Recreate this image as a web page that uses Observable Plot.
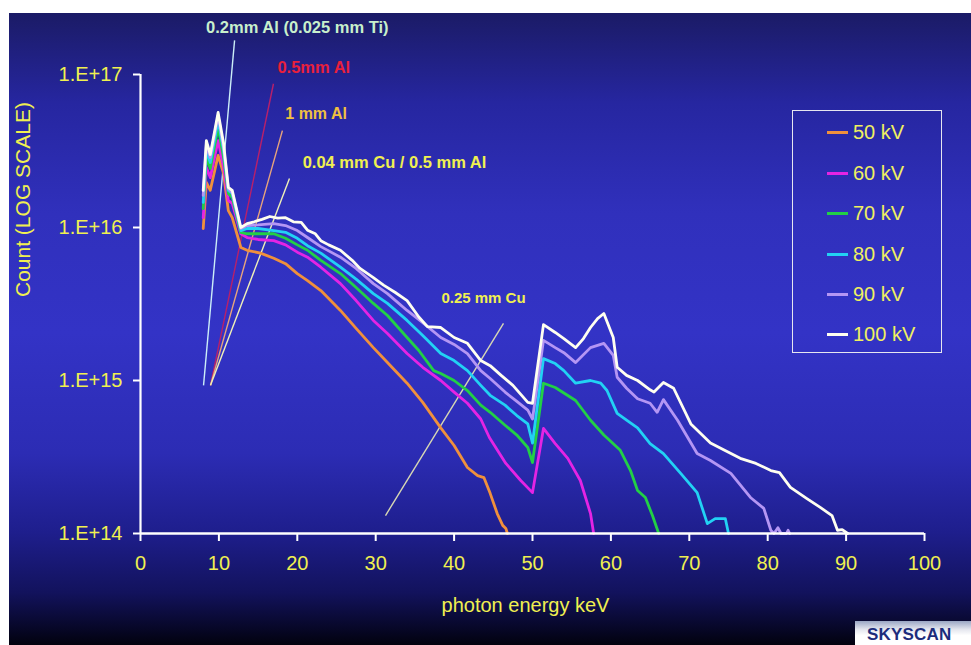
<!DOCTYPE html>
<html><head><meta charset="utf-8">
<script src="https://cdn.jsdelivr.net/npm/d3@7"></script>
<script src="https://cdn.jsdelivr.net/npm/@observablehq/plot@0.6"></script>
<style>
html,body{margin:0;padding:0;background:#fff;width:971px;height:645px;overflow:hidden;font-family:Arial,"Liberation Sans",sans-serif;}
#panel{position:absolute;left:9px;top:13px;width:962px;height:632px;
background:linear-gradient(to bottom,#1b1b66 0px,#2626a0 90px,#3030bc 200px,#3333c6 320px,#2c2cb4 440px,#1e1e8c 520px,#12125c 580px,#070728 615px,#02020e 632px);}
#chart{position:absolute;left:0;top:0;}
#legend{position:absolute;left:783px;top:97px;width:148px;height:241px;border:1px solid #e6e6f0;}
.lrow{position:absolute;left:0;height:24px;}
.sw{position:absolute;left:34px;top:11px;width:21px;height:3px;}
.lt{position:absolute;left:60px;top:0;font-size:20px;line-height:24px;color:#f0f060;white-space:nowrap;}
#logo{position:absolute;left:846px;top:608px;width:116px;height:24px;background:linear-gradient(to bottom,#9aa6c4,#e4e6ee 35%,#ffffff 60%);overflow:hidden;}
#logo span{position:absolute;left:12px;top:4px;font-size:17px;font-weight:900;color:#1c2c7c;letter-spacing:0.2px;}
</style></head>
<body>
<div id="panel"><div id="chart"></div><div id="legend"></div><div id="logo"><span>SKYSCAN</span></div></div>
<script>
const seriesNames = ["50 kV","60 kV","70 kV","80 kV","90 kV","100 kV"];
const seriesColors = ["#f0903c","#e424e4","#22d046","#22d2f4","#b496f4","#fffff0"];
const xTicks = [0,10,20,30,40,50,60,70,80,90,100];
const yTicks = [1e14,1e15,1e16,1e17];
const yTickLabels = ["1.E+14","1.E+15","1.E+16","1.E+17"];

const kV50 = [[8.0,9.85e15],[8.4,1.97e16],[8.9,1.75e16],[9.9,2.96e16],[10.6,2.25e16],[11.2,1.29e16],[11.7,1.16e16],[12.8,7.4e15],[13.6,7.1e15],[15.3,6.8e15],[17,6.3e15],[18.5,5.8e15],[20,5.0e15],[21.3,4.5e15],[23,3.87e15],[25.5,2.87e15],[27.5,2.19e15],[29.7,1.64e15],[31.5,1.31e15],[34,9.6e14],[36,7.2e14],[38.3,4.9e14],[40,3.76e14],[41.7,2.7e14],[43,2.39e14],[43.8,2.32e14],[44.6,1.83e14],[45.5,1.35e14],[46.2,1.13e14],[46.6,1.08e14],[46.8,1.0e14]];
const kV60 = [[8.0,1.16e16],[8.4,2.47e16],[8.9,2.12e16],[9.9,3.7e16],[10.6,2.47e16],[11.2,1.5e16],[11.7,1.44e16],[12.8,9.1e15],[13.6,8.6e15],[15,8.35e15],[17,8.2e15],[18.5,7.7e15],[20,6.9e15],[21.3,6.4e15],[23,5.5e15],[25.5,4.3e15],[27.5,3.33e15],[29.7,2.47e15],[31.5,2.03e15],[34,1.5e15],[36,1.22e15],[38.3,1.0e15],[40,8.4e14],[41.7,7.1e14],[43.4,5.6e14],[44.5,4.24e14],[46.6,2.87e14],[48.5,2.22e14],[50,1.85e14],[51.4,4.86e14],[52.9,3.87e14],[54.5,3.1e14],[56.1,2.22e14],[57.4,1.35e14],[57.8,1.0e14]];
const kV70 = [[8.0,1.33e16],[8.4,2.87e16],[8.9,2.43e16],[9.9,4.5e16],[10.6,2.87e16],[11.2,1.67e16],[11.7,1.57e16],[12.8,9.3e15],[13.6,9.1e15],[15,9.1e15],[17,9.1e15],[18.5,8.5e15],[20,7.7e15],[21.3,7.1e15],[23,6.1e15],[25.5,5.0e15],[27.5,4.05e15],[29.7,3.19e15],[31.5,2.66e15],[34,1.91e15],[35.5,1.57e15],[37.4,1.16e15],[38.3,1.11e15],[40,1.0e15],[41.7,8.6e14],[43.4,6.9e14],[44.6,6.2e14],[46.5,5.1e14],[48,4.4e14],[49.4,3.65e14],[50,2.91e14],[51.4,9.6e14],[52.9,9.0e14],[55.5,7.4e14],[57.4,5.5e14],[59.1,4.4e14],[61.2,3.5e14],[62.5,2.58e14],[63.4,1.91e14],[64.4,1.72e14],[65.3,1.31e14],[66.1,1.0e14]];
const kV80 = [[8.0,1.46e16],[8.4,3.19e16],[8.9,2.66e16],[9.9,5.0e16],[10.6,3.19e16],[11.2,1.75e16],[11.7,1.67e16],[12.8,9.55e15],[13.6,9.85e15],[15,9.85e15],[17,9.55e15],[18.5,9.3e15],[20,8.5e15],[21.3,7.6e15],[23,6.8e15],[25.5,5.5e15],[27.5,4.6e15],[29.7,3.7e15],[31.5,3.19e15],[34,2.47e15],[36,1.97e15],[38.3,1.5e15],[40,1.35e15],[41.7,1.16e15],[43.4,9.3e14],[44.6,8.0e14],[46.5,6.9e14],[48,5.9e14],[49.4,5.2e14],[50,3.9e14],[51.4,1.39e15],[52.9,1.29e15],[54,1.16e15],[55.5,9.6e14],[57.4,1.0e15],[58.7,9.6e14],[59.5,8.6e14],[60.8,6.1e14],[62,5.5e14],[63.4,4.9e14],[65,3.87e14],[66.7,3.33e14],[68.9,2.47e14],[71,1.85e14],[72.3,1.16e14],[73.3,1.25e14],[74.6,1.25e14],[75,1.0e14]];
const kV90 = [[8.0,1.62e16],[8.4,3.44e16],[8.9,2.87e16],[9.9,5.4e16],[10.6,3.33e16],[11.2,1.8e16],[11.7,1.69e16],[12.8,9.85e15],[13.6,1.03e16],[15,1.04e16],[17,1.06e16],[18.5,1.03e16],[20,9.55e15],[21.3,8.6e15],[23,7.5e15],[25.5,6.4e15],[27.5,5.4e15],[29.7,4.3e15],[31.5,3.7e15],[34,2.87e15],[36,2.39e15],[38.3,1.91e15],[40,1.72e15],[41.7,1.5e15],[43.4,1.16e15],[44.6,1.03e15],[46.5,8.4e14],[48,7.3e14],[49.4,6.4e14],[50,5.6e14],[51.4,1.83e15],[52.9,1.64e15],[54,1.52e15],[55.5,1.31e15],[57.4,1.64e15],[59.1,1.75e15],[60.3,1.46e15],[60.8,1.05e15],[62,8.9e14],[63.4,7.6e14],[65,7.1e14],[65.9,6.2e14],[66.7,7.5e14],[68.5,5.5e14],[71,3.33e14],[72.7,3.0e14],[75.3,2.47e14],[77.8,1.72e14],[79.5,1.46e14],[80.4,1.05e14],[80.8,1.0e14],[81.3,1.09e14],[81.7,1.0e14],[82.4,1.0e14],[82.6,1.05e14],[82.8,1.0e14]];
const kV100 = [[8.0,1.75e16],[8.4,3.7e16],[8.9,3.0e16],[9.9,5.65e16],[10.6,3.54e16],[11.2,1.83e16],[11.7,1.75e16],[12.8,1.0e16],[13.6,1.06e16],[14.5,1.09e16],[15.5,1.13e16],[16.5,1.18e16],[17.5,1.15e16],[18.5,1.16e16],[19.5,1.09e16],[20.5,1.08e16],[21.3,9.6e15],[22.3,9.1e15],[23,8.2e15],[24,7.7e15],[25.5,7.1e15],[27,6.1e15],[28,5.4e15],[29.7,4.7e15],[31,4.2e15],[32.5,3.76e15],[34,3.33e15],[35.5,2.6e15],[36.6,2.25e15],[38.3,2.22e15],[40,1.91e15],[41.7,1.75e15],[43.4,1.35e15],[44.6,1.25e15],[46,1.08e15],[47.5,9.3e14],[49.4,7.2e14],[50,7.1e14],[51.4,2.32e15],[52.9,2.06e15],[54,1.88e15],[55.5,1.64e15],[56.5,1.88e15],[57.4,2.22e15],[58.3,2.54e15],[59.1,2.74e15],[60.3,1.91e15],[60.8,1.22e15],[62,1.08e15],[63.4,1.0e15],[65,8.7e14],[65.5,8.4e14],[66.7,9.7e14],[68,8.9e14],[70.2,5.2e14],[72.7,3.9e14],[74.5,3.5e14],[76.5,3.1e14],[78.5,2.87e14],[80.4,2.58e14],[81.5,2.5e14],[82.9,2.0e14],[85,1.69e14],[86.7,1.48e14],[88.2,1.31e14],[88.9,1.05e14],[89.5,1.06e14],[90.2,1.0e14]];
const seriesData = [kV50,kV60,kV70,kV80,kV90,kV100];

const annoLabels = ["0.2mm Al (0.025 mm Ti)","0.5mm Al","1 mm Al","0.04 mm Cu / 0.5 mm Al","0.25 mm Cu"];
const annoTextColors = ["#c8f0cc","#e8203c","#f0c040","#f0f050","#f0f050"];
const annoLineColors = ["#cceef8","#b8206a","#e8a47c","#f0f0b8","#d8d8b4"];
const annoTextSizes = [16.5,16.5,16,16.5,15];
const annoLineFrom = [[8.04,9.3e14],[8.93,9.3e14],[8.93,9.3e14],[8.93,9.3e14],[31.25,1.31e14]];
const annoLineTo = [[12.0,1.67e17],[16.96,8.7e16],[18.1,4.3e16],[19.0,2.09e16],[46.3,2.36e15]];
const annoTextAt = [[20.0,2.03e17],[22.1,1.11e17],[22.4,5.5e16],[32.4,2.66e16],[43.75,3.44e15]];

const rows = seriesData.flatMap((s,i)=>s.map(([keV,count])=>({series:seriesNames[i],keV,count})));
const anno = annoLabels.map((label,i)=>({label,tc:annoTextColors[i],lc:annoLineColors[i],fs:annoTextSizes[i],
  x1:annoLineFrom[i][0],y1:annoLineFrom[i][1],x2:annoLineTo[i][0],y2:annoLineTo[i][1],tx:annoTextAt[i][0],ty:annoTextAt[i][1]}));

const yellow = "#f0f050";
const plot = Plot.plot({
  width: 962, height: 632,
  marginLeft: 131, marginRight: 47, marginTop: 61, marginBottom: 112,
  style: {background:"transparent", color: yellow, fontFamily:"Arial, 'Liberation Sans', sans-serif", fontSize:"20px", overflow:"visible"},
  x: {domain:[0,100]},
  y: {type:"log", domain:[1e14,1e17]},
  color: {domain: seriesNames, range: seriesColors},
  marks: [
    Plot.link(anno, {x1:"x1", y1:"y1", x2:"x2", y2:"y2", stroke:d=>d.lc, strokeWidth:1.4}),
    Plot.line(rows, {x:"keV", y:"count", z:"series", stroke:"series", strokeWidth:2.8, strokeLinejoin:"round"}),
    Plot.ruleX([0], {y1:1e14, y2:1e17, stroke:"white", strokeWidth:2.2}),
    Plot.ruleY([1e14], {x1:0, x2:100, stroke:"white", strokeWidth:2.6}),
    Plot.axisX({ticks:xTicks, tickSize:8, tickPadding:14, stroke:"white", strokeWidth:2, fill:yellow, fontSize:20, label:null}),
    Plot.axisY({ticks:yTicks, tickFormat:(d)=>yTickLabels[yTicks.indexOf(d)], tickSize:7, tickPadding:11, stroke:"white", strokeWidth:2, fill:yellow, fontSize:20, label:null}),
    Plot.text(["photon energy keV"], {frameAnchor:"bottom", dx:-7, dy:78, fill:yellow, fontSize:20}),
    Plot.text(["Count (LOG SCALE)"], {frameAnchor:"left", dx:-117, dy:-7, rotate:-90, fill:yellow, fontSize:21}),
    Plot.text(anno, {x:"tx", y:"ty", text:"label", fill:d=>d.tc, fontSize:d=>d.fs, fontWeight:"bold"})
  ]
});
document.getElementById("chart").appendChild(plot);

const legend = document.getElementById("legend");
const rowTops = [9,50,90,131,171,211];
seriesNames.forEach((n,i)=>{
  const r = document.createElement("div");
  r.className = "lrow"; r.style.top = rowTops[i]+"px";
  r.innerHTML = `<div class="sw" style="background:${seriesColors[i]}"></div><div class="lt">${n}</div>`;
  legend.appendChild(r);
});
</script>
</body></html>
